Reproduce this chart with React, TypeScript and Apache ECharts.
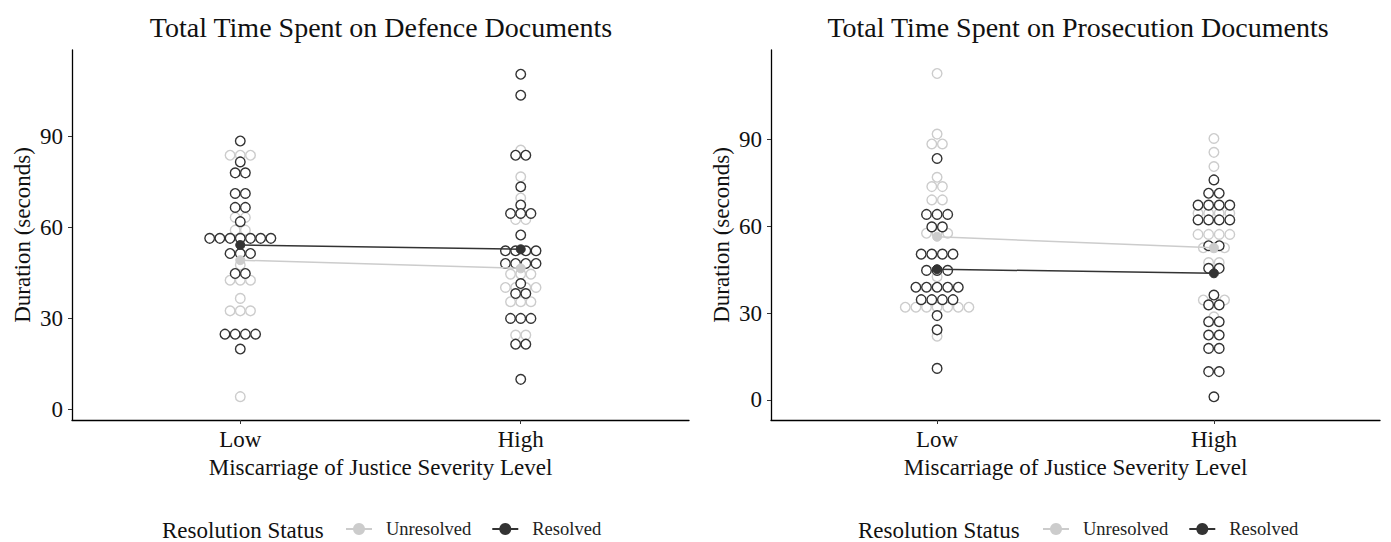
import React, { useEffect, useRef } from "react";
import * as echarts from "echarts";

const levels = ["Low", "High"];
const yTicks = [0, 30, 60, 90];
const statuses = ["Unresolved", "Resolved"];
const titles = ["Total Time Spent on Defence Documents", "Total Time Spent on Prosecution Documents"];
const xTitle = "Miscarriage of Justice Severity Level";
const yTitle = "Duration (seconds)";
const legendTitle = "Resolution Status";

// Defence documents
const defLowUnresolved = [83.7, 83.7, 83.7, 63.2, 63.2, 59, 59, 47.5, 42.5, 42.5, 42.5, 36.5, 32.4, 32.4, 32.4, 4.1];
const defLowResolved = [88.4, 81.5, 77.9, 77.9, 71.1, 71.1, 66.5, 66.5, 61.8, 56.3, 56.3, 56.3, 56.3, 56.3, 56.3, 56.3, 51.3, 51.3, 51.3, 44.7, 44.7, 24.7, 24.7, 24.7, 24.7, 19.8];
const defHighUnresolved = [85.4, 76.6, 69.6, 62.5, 62.5, 44.5, 44.5, 44.5, 40.1, 40.1, 40.1, 40.1, 35.4, 35.4, 35.4, 24.4, 24.4];
const defHighResolved = [110.4, 103.5, 83.7, 83.7, 73.3, 67.3, 64.5, 64.5, 64.5, 57.4, 52.2, 52.2, 52.2, 52.2, 48, 48, 48, 48, 41.4, 38.1, 38.1, 29.9, 29.9, 29.9, 21.4, 21.4, 9.8];
const defMeansUnresolved = [49.1, 46.4];
const defMeansResolved = [54.1, 52.7];

// Prosecution documents
const prosLowUnresolved = [112.6, 91.7, 88.3, 88.3, 76.8, 73.6, 73.6, 69, 69, 57.5, 57.5, 57.5, 42.5, 32, 32, 32, 32, 32, 32, 32, 22];
const prosLowResolved = [83.3, 64, 64, 64, 59.7, 59.7, 50.3, 50.3, 50.3, 50.3, 44.7, 44.7, 44.7, 38.9, 38.9, 38.9, 38.9, 38.9, 34.6, 34.6, 34.6, 34.6, 29.1, 24.2, 10.9];
const prosHighUnresolved = [90.2, 85.4, 80.5, 64.4, 64.4, 64.4, 64.4, 57.1, 57.1, 57.1, 57.1, 52.5, 52.5, 52.5, 47.4, 47.4, 34.5, 34.5, 34.5, 28.7];
const prosHighResolved = [75.9, 71.3, 71.3, 67.2, 67.2, 67.2, 67.2, 62.1, 62.1, 62.1, 62.1, 53.2, 53.2, 45.4, 45.4, 36.2, 32.8, 32.8, 27, 27, 22.4, 22.4, 17.8, 17.8, 9.8, 9.8, 1.1];
const prosMeansUnresolved = [56.3, 52.5];
const prosMeansResolved = [45.1, 43.7];

const FONT = '"Liberation Serif", "Times New Roman", serif';
const DARK = "#333333";
const LIGHT = "#cccccc";

function stackDots(values: number[], level: number) {
  const counts = new Map<number, number>();
  values.forEach((v) => counts.set(v, (counts.get(v) || 0) + 1));
  const out: number[][] = [];
  counts.forEach((n, v) => {
    for (let i = 0; i < n; i++) out.push([level, v, i - (n - 1) / 2]);
  });
  return out;
}

function dotSeries(name: string, low: number[], high: number[], idx: number, stroke: string, spacing: number, z: number) {
  return {
    type: "custom",
    name: name + "-dots",
    xAxisIndex: idx,
    yAxisIndex: idx,
    z,
    silent: true,
    clip: false,
    encode: { x: 0, y: 1 },
    data: [...stackDots(low, 1), ...stackDots(high, 2)],
    renderItem: (params: any, api: any) => {
      const p = api.coord([api.value(0), api.value(1)]);
      return {
        type: "circle",
        shape: { cx: p[0] + api.value(2) * spacing, cy: p[1], r: 4.8 },
        style: { fill: "#ffffff", stroke, lineWidth: 1.4 },
      };
    },
  };
}

function meanSeries(name: string, means: number[], idx: number, color: string, z: number) {
  return {
    type: "line",
    name,
    xAxisIndex: idx,
    yAxisIndex: idx,
    z,
    data: means.map((m, i) => [i + 1, m]),
    symbol: "circle",
    symbolSize: 9,
    itemStyle: { color, borderColor: color },
    lineStyle: { color, width: 1.5 },
    silent: true,
  };
}

function xAxis(idx: number) {
  return {
    type: "value",
    gridIndex: idx,
    min: 0.4,
    max: 2.6,
    splitLine: { show: false },
    axisLine: { show: true, onZero: false, lineStyle: { color: "#000", width: 1.3 } },
    axisTick: { show: true, length: 4, customValues: [1, 2], lineStyle: { color: "#333" } },
    axisLabel: {
      customValues: [1, 2],
      formatter: (v: number) => levels[Math.round(v) - 1] || "",
      fontFamily: FONT,
      fontSize: 23,
      color: "#111",
      margin: 8,
    },
    name: xTitle,
    nameLocation: "middle",
    nameGap: 33,
    nameTextStyle: { fontFamily: FONT, fontSize: 23, color: "#111" },
  };
}

function yAxis(idx: number, min: number, max: number) {
  return {
    type: "value",
    gridIndex: idx,
    min,
    max,
    splitLine: { show: false },
    axisLine: { show: true, onZero: false, lineStyle: { color: "#000", width: 1.3 } },
    axisTick: { show: true, length: 4, customValues: yTicks, lineStyle: { color: "#333" } },
    axisLabel: {
      customValues: yTicks,
      fontFamily: FONT,
      fontSize: 23,
      color: "#111",
      margin: 9,
    },
    name: yTitle,
    nameLocation: "middle",
    nameRotate: 90,
    nameGap: 38,
    nameTextStyle: { fontFamily: FONT, fontSize: 23, color: "#111" },
  };
}

function textEl(text: string, x: number, y: number, size: number) {
  return {
    type: "text",
    x,
    y,
    silent: true,
    style: {
      text,
      font: `${size}px ${FONT}`,
      fill: "#111",
      textAlign: "center",
      align: "center",
      textVerticalAlign: "middle",
      verticalAlign: "middle",
    },
  };
}

function legendEl(text: string, x: number, y: number) {
  return {
    type: "text",
    x,
    y,
    silent: true,
    style: {
      text,
      font: `23px ${FONT}`,
      fill: "#111",
      textAlign: "left",
      align: "left",
      textVerticalAlign: "middle",
      verticalAlign: "middle",
    },
  };
}

function legendCfg(left: number) {
  return {
    left,
    top: 518,
    padding: 0,
    data: statuses,
    selectedMode: false,
    itemWidth: 26,
    itemHeight: 15,
    itemGap: 20,
    lineStyle: { width: 2 },
    textStyle: { fontFamily: FONT, fontSize: 18.5, lineHeight: 22, color: "#222", padding: [0, 0, 0, 9] },
  };
}

export default function App() {
  const ref = useRef<HTMLDivElement>(null);
  useEffect(() => {
    if (!ref.current) return;
    const chart = echarts.init(ref.current, undefined, { renderer: "svg" });
    chart.setOption({
      animation: false,
      backgroundColor: "#ffffff",
      grid: [
        { left: 72, top: 50, width: 617, height: 370 },
        { left: 771, top: 50, width: 609, height: 370 },
      ],
      xAxis: [xAxis(0), xAxis(1)],
      yAxis: [yAxis(0, -3.6, 118.4), yAxis(1, -6.9, 120.7)],
      legend: [legendCfg(345), legendCfg(1042)],
      graphic: [
        textEl(titles[0], 381, 27, 28),
        textEl(titles[1], 1078, 27, 28),
        legendEl(legendTitle, 162, 530),
        legendEl(legendTitle, 858, 530),
      ],
      series: [
        dotSeries("Unresolved", defLowUnresolved, defHighUnresolved, 0, LIGHT, 10.2, 1),
        dotSeries("Resolved", defLowResolved, defHighResolved, 0, DARK, 10.2, 2),
        meanSeries("Unresolved", defMeansUnresolved, 0, LIGHT, 3),
        meanSeries("Resolved", defMeansResolved, 0, DARK, 4),
        dotSeries("Unresolved", prosLowUnresolved, prosHighUnresolved, 1, LIGHT, 10.6, 1),
        dotSeries("Resolved", prosLowResolved, prosHighResolved, 1, DARK, 10.6, 2),
        meanSeries("Unresolved", prosMeansUnresolved, 1, LIGHT, 3),
        meanSeries("Resolved", prosMeansResolved, 1, DARK, 4),
      ],
    });
    return () => chart.dispose();
  }, []);
  return (
    <div
      ref={ref}
      style={{ position: "fixed", left: 0, top: 0, width: 1391, height: 542, background: "#fff" }}
    />
  );
}
